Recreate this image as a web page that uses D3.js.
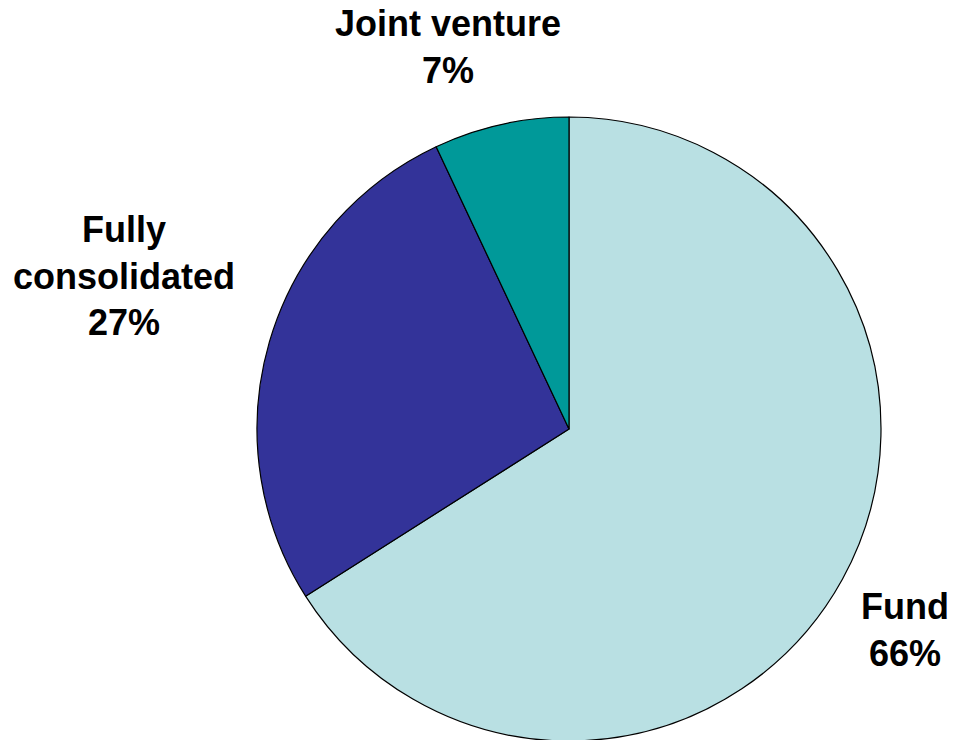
<!DOCTYPE html>
<html>
<head>
<meta charset="utf-8">
<script src="https://cdn.jsdelivr.net/npm/d3@7"></script>
<style>
  html, body { margin: 0; padding: 0; background: #fff; }
  svg { display: block; }
</style>
</head>
<body>
<svg id="chart" width="953" height="740"></svg>
<script>
const categories = ["Fund", "Fully consolidated", "Joint venture"];
const values = [66, 27, 7];
const colors = ["#B9E0E3", "#333399", "#009999"];
const labelLines = [["Fund", "66%"], ["Fully", "consolidated", "27%"], ["Joint venture", "7%"]];
const labelPos = [[905, 619], [124, 242], [448, 36]];

const svg = d3.select("#chart");
const cx = 569, cy = 429, r = 312;

const pie = d3.pie().sort(null).value(d => d)(values);
const arc = d3.arc().innerRadius(0).outerRadius(r);

const g = svg.append("g").attr("transform", `translate(${cx},${cy})`);
g.selectAll("path").data(pie).enter().append("path")
  .attr("d", arc)
  .attr("fill", (d, i) => colors[i])
  .attr("stroke", "#000")
  .attr("stroke-width", 1.2)
  .attr("stroke-linejoin", "round");

categories.forEach((c, i) => {
  const t = svg.append("text")
    .attr("x", labelPos[i][0])
    .attr("y", labelPos[i][1])
    .attr("text-anchor", "middle")
    .attr("font-family", "Liberation Sans, Arial, sans-serif")
    .attr("font-weight", "bold")
    .attr("font-size", "36px")
    .attr("fill", "#000");
  labelLines[i].forEach((line, j) => {
    t.append("tspan").attr("x", labelPos[i][0]).attr("dy", j === 0 ? 0 : 46.5).text(line);
  });
});
</script>
</body>
</html>
